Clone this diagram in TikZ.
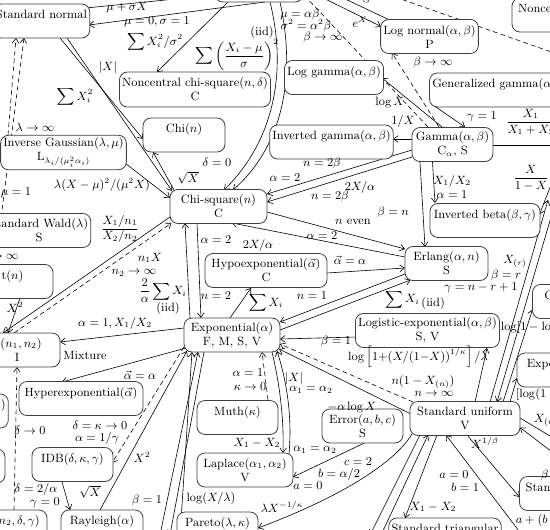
\documentclass[tikz,border=0pt]{standalone}
\usepackage{amsmath}
\usetikzlibrary{arrows.meta,calc}
\pgfdeclarelayer{bg}
\pgfsetlayers{bg,main}
\begin{document}
\begin{tikzpicture}[x=0.75pt,y=-0.75pt,
  every node/.style={font=\fontsize{9}{10.5}\selectfont},
  bx/.style={draw=black!75,line width=0.6pt,rounded corners=6pt,fill=white,align=center,inner xsep=2pt,inner ysep=2pt,minimum height=25.5pt},
  lb/.style={inner sep=0.5pt},
  ed/.style={line width=0.45pt},
  ar/.style={ed,-{Straight Barb[length=3.5pt,width=5pt]}},
  da/.style={ar,dash pattern=on 3.5pt off 2.5pt},
  dl/.style={ed,dash pattern=on 3.5pt off 2.5pt}]
\useasboundingbox (0,0) rectangle (550,529);
\clip (0,0) rectangle (550,529);
% ---------- boxes ----------
\node[bx,minimum width=69.75pt] (sn) at (41.5,21) {Standard normal\\~};
\node[bx,minimum width=66pt] (norm) at (259,-15) {Normal$(\mu,\sigma)$\\~};
\node[bx,minimum width=112.5pt,minimum height=26.25pt] (ncc) at (195,89.5) {Noncentral chi-square$(n,\delta)$\\C};
\node[bx,minimum width=61.5pt] (chi) at (184,135) {Chi$(n)$\\~};
\node[bx,minimum width=72pt] (lgam) at (334,77.5) {Log gamma$(\alpha,\beta)$\\~};
\node[bx,minimum width=92.25pt] (igam) at (331.5,142) {Inverted gamma$(\alpha,\beta)$\\~};
\node[bx,minimum width=72.75pt] (lnorm) at (429.5,36.5) {Log normal$(\alpha,\beta)$\\P};
\node[bx,minimum width=105pt] (ncb) at (582,15) {Noncentral beta$(\beta,\gamma,\delta)$\\~};
\node[bx,minimum width=116.25pt] (ggam) at (507,90) {Generalized gamma$(\alpha,\beta,\gamma)$\\~};
\node[bx,minimum width=60.75pt] (gam) at (452.5,144.5) {Gamma$(\alpha,\beta)$\\C$_\alpha$, S};
\node[bx,minimum width=82.5pt] (ibeta) at (485,220.5) {Inverted beta$(\beta,\gamma)$\\~};
\node[bx,minimum width=62.25pt] (erl) at (446.5,263.5) {Erlang$(\alpha,n)$\\S};
\node[bx,minimum width=105.75pt] (lexp) at (427.5,330.5) {Logistic-exponential$(\alpha,\beta)$\\S, V};
\node[bx,minimum width=72.75pt] (chisq) at (218.5,206.5) {Chi-square$(n)$\\C};
\node[bx,minimum width=91.5pt] (hypo) at (266,270.5) {Hypoexponential$(\vec\alpha)$\\C};
\node[bx,minimum width=72pt] (expo) at (232,335) {Exponential$(\alpha)$\\F, M, S, V};
\node[bx,minimum width=76.5pt] (wald) at (39,230.5) {Standard Wald$(\lambda)$\\S};
\node[bx,minimum width=92.25pt] (ig) at (63.5,152.5) {Inverse Gaussian$(\lambda,\mu)$\\L$_{\lambda_i/(\mu_i^2\alpha_i)}$};
\node[bx,minimum width=60.75pt] (tn) at (12.5,281.5) {t$(n)$\\~};
\node[bx,minimum width=64.5pt] (fdist) at (17,350) {F$(n_1,n_2)$\\I};
\node[bx,minimum width=93pt] (hyper) at (81,398.5) {Hyperexponential$(\vec\alpha)$\\~};
\node[bx,minimum width=60.75pt] (idb) at (72.5,464.5) {IDB$(\delta,\kappa,\gamma)$\\~};
\node[bx,minimum width=61.5pt] (ray) at (102,527) {Rayleigh$(\alpha)$\\~};
\node[bx,minimum width=112.5pt] (ncf) at (-28,527) {Noncentral F$(n_1,n_2,\delta,\gamma)$\\~};
\node[bx,minimum width=67.5pt] (lb1) at (-40,411) {Log logistic$(\lambda,\kappa)$\\~};
\node[bx,minimum width=67.5pt] (lb2) at (-40,466) {~\\~};
\node[bx,minimum width=60.75pt] (muth) at (237.5,417.5) {Muth$(\kappa)$\\~};
\node[bx,minimum width=72pt] (lap) at (245,470) {Laplace$(\alpha_1,\alpha_2)$\\V};
\node[bx,minimum width=60.75pt] (par) at (217.5,529) {Pareto$(\lambda,\kappa)$\\~};
\node[bx,minimum width=60.75pt] (err) at (362.5,426) {Error$(a,b,c)$\\S};
\node[bx,minimum width=82.5pt] (su) at (465,418.5) {Standard uniform\\V};
\node[bx,minimum width=112.5pt] (expr) at (592,370) {Exponential power$(\lambda,\kappa)$\\~};
\node[bx,minimum width=78.75pt] (gomp) at (585,301.5) {Gompertz$(\delta,\kappa)$\\~};
\node[bx,minimum width=86.25pt] (spow) at (577,493.5) {Standard power$(\beta)$\\~};
\node[bx,minimum width=82.5pt] (stri) at (445,535) {Standard triangular\\~};
% ---------- labels ----------
\node[lb] (l1) at (127,8) {$\mu+\sigma X$};
\node[lb] (l2) at (157,22) {$\mu=0,\sigma=1$};
\node[lb] (l3) at (155,42) {$\displaystyle\sum X_i^2/\sigma^2$};
\node[lb] (l4) at (262,32) {(iid)};
\node[lb] (l5) at (237,55) {$\displaystyle\sum\left(\frac{X_i-\mu}{\sigma}\right)^{2}$};
\node[lb] (l6) at (108,67) {$|X|$};
\node[lb] (l7) at (75,97) {$\displaystyle\sum X_i^2$};
\node[lb] (l8) at (35,127) {$\lambda\to\infty$};
\node[lb] (l9) at (102,185) {$\lambda(X-\mu)^2/(\mu^2X)$};
\node[lb] (l10) at (188,178) {$\sqrt{X}$};
\node[lb] (l11) at (217,162) {$\delta=0$};
\node[lb] (l12) at (16,193) {$\mu=1$};
\node[lb] (l13) at (120,229) {$\dfrac{X_1/n_1}{X_2/n_2}$};
\node[lb] (l14) at (150,258) {$n_1X$};
\node[lb] (l15) at (134,273) {$n_2\to\infty$};
\node[lb] (l16) at (-1,257) {$n\to\infty$};
\node[lb] (l17) at (15,307) {$X^2$};
\node[lb] (l18) at (163,291) {$\dfrac{2}{\alpha}\displaystyle\sum X_i$};
\node[lb] (l19) at (168,308) {(iid)};
\node[lb] (l20) at (115,323) {$\alpha=1, X_1/X_2$};
\node[lb] (l21) at (85,355) {Mixture};
\node[lb] (l22) at (140,375) {$\vec\alpha=\alpha$};
\node[lb] (l23) at (100,425) {$\delta=\kappa\to0$};
\node[lb] (l24) at (97,438) {$\alpha=1/\gamma$};
\node[lb] (l25) at (142,457) {$X^2$};
\node[lb] (l26) at (90,492) {$\sqrt{X}$};
\node[lb] (l27) at (36,489) {$\delta=2/\alpha$};
\node[lb] (l28) at (45,503) {$\gamma=0$};
\node[lb] (l29) at (30,430) {$\delta\to0$};
\node[lb] (l30) at (147,500) {$\beta=1$};
\node[lb] (l31) at (211,498) {$\log(X/\lambda)$};
\node[lb] (l32) at (216,240) {$\alpha=2$};
\node[lb] (l33) at (216,296) {$n=2$};
\node[lb] (l34) at (258,245) {$2X/\alpha$};
\node[lb] (l35) at (266,303) {$\displaystyle\sum X_i$};
\node[lb] (l36) at (285,178) {$\alpha=2$};
\node[lb] (l37) at (322,163) {$n=2\beta$};
\node[lb] (l38) at (360,187) {$2X/\alpha$};
\node[lb] (l39) at (330,196) {$n=2\beta$};
\node[lb] (l40) at (353,222) {$n$ even};
\node[lb] (l41) at (322,236) {$\alpha=2$};
\node[lb] (l42) at (350,260) {$\vec\alpha=\alpha$};
\node[lb] (l43) at (312,296) {$n=1$};
\node[lb] (l44) at (415,300) {$\displaystyle\sum X_i$\raisebox{-3pt}{\,(iid)}};
\node[lb] (l45) at (336,341) {$\beta=1$};
\node[lb] (l46) at (403,121) {$1/X$};
\node[lb] (l47) at (390,102) {$\log X$};
\node[lb] (l48) at (452,181) {$X_1/X_2$};
\node[lb] (l49) at (452,195) {$\alpha=1$};
\node[lb] (l50) at (393,212) {$\beta=n$};
\node[lb] (l51) at (482,117) {$\gamma=1$};
\node[lb,anchor=west] (l52) at (505,122) {$\dfrac{X_1}{X_1+X_2}$};
\node[lb] (l53) at (531,178) {$\dfrac{X}{1-X}$};
\node[lb] (l54) at (300,14) {$\mu=\alpha\beta$};
\node[lb] (l55) at (306,26) {$\sigma^2=\alpha^2\beta$};
\node[lb] (l56) at (323,37) {$\beta\to\infty$};
\node[lb] (l57) at (433,62) {$\beta\to\infty$};
\node[lb] (l58) at (360,22) {$e^X$};
\node[lb] (l59) at (368,-3) {$\log X$};
\node[lb] (l60) at (418,357) {$\log\left[1{+}(X/(1{-}X))^{1/\kappa}\right]/\lambda$};
\node[lb] (l61) at (515,261) {$X_{(r)}$};
\node[lb] (l62) at (506,275) {$\beta=r$};
\node[lb] (l63) at (481,288) {$\gamma=n-r+1$};
\node[lb,anchor=west] (l64) at (500,327) {$\log[1-\log(1-X)]$};
\node[lb,anchor=west] (l65) at (515,393) {$[\log(1-\log(1-X))/\lambda]^{1/\kappa}$};
\node[lb] (l66) at (423,382) {$n(1-X_{(n)})$};
\node[lb] (l67) at (434,394) {$n\to\infty$};
\node[lb] (l68) at (352,407) {$-\alpha\log X$};
\node[lb] (l69) at (294,378) {$|X|$};
\node[lb] (l70) at (311,390) {$\alpha_1=\alpha_2$};
\node[lb] (l71) at (248,373) {$\alpha=1$};
\node[lb] (l72) at (250,387) {$\kappa\to0$};
\node[lb] (l73) at (257,443) {$X_1-X_2$};
\node[lb] (l74) at (315,450) {$\alpha_1=\alpha_2$};
\node[lb] (l75) at (358,462) {$c=2$};
\node[lb] (l76) at (339,474) {$b=\alpha/2$};
\node[lb] (l77) at (308,486) {$a=0$};
\node[lb] (l78) at (282,507) {$\lambda X^{-1/\kappa}$};
\node[lb] (l79) at (485,443) {$X^{1/\beta}$};
\node[lb,anchor=west] (l80) at (533,420) {$X_{(n)}$};
\node[lb] (l81) at (454,475) {$a=0$};
\node[lb] (l82) at (465,487) {$b=1$};
\node[lb] (l83) at (433,507) {$X_1-X_2$};
\node[lb,anchor=west] (l84) at (540,475) {$\beta=1$};
\node[lb,anchor=west] (l85) at (515,520) {$a+(b-a)X$};
% ---------- connectors ----------
\begin{pgfonlayer}{bg}
\clip (0,0) rectangle (550,529);
\coordinate (betaA) at (560,145);
\coordinate (betaB) at (556,172);
\coordinate (betaC) at (548,200);
\coordinate (betaD) at (556,200);
\coordinate (dA) at (395,-3);
\coordinate (dB) at (560,55);
\coordinate (xnA) at (560,442);
\coordinate (xnB) at (560,458);
\coordinate (b1) at (370,535);
\coordinate (b2) at (381,535);
\coordinate (uab) at (522,535);
\coordinate (w1) at (160,535);
\coordinate (w2) at (170,535);
\draw[ar] ($(sn)+(44.5,-13)$) -- ($(norm)+(-44,10)$);
\draw[ar] ($(norm)+(6,17)$) -- ($(sn)+(47.5,4)$);
\draw[ar] ($(norm)+(-31,17)$) -- ($(ncc)+(-38,-17.5)$);
\draw[ar] ($(norm)+(11,17)$) .. controls (287,70) and (275,140) .. ($(chisq)+(5.5,-16.5)$);
\draw[ar] ($(norm)+(21,17)$) .. controls (296,75) and (284,145) .. ($(chisq)+(14.5,-16.5)$);
\draw[ar] ($(sn)+(18.5,17)$) -- ($(chi)+(-41,4)$);
\draw[ar] ($(sn)+(25.5,17)$) -- ($(chisq)+(-46.5,-15.5)$);
\draw[ar] ($(chisq)+(-44.5,-16.5)$) -- ($(chi)+(-31,17)$);
\draw[ar] ($(ig)+(61.5,10.5)$) -- ($(chisq)+(-48.5,-8.5)$);
\draw[da] ($(ig)+(-55.5,-17.5)$) -- ($(sn)+(-25.5,17)$);
\draw[da] ($(tn)+(-17.5,-16.5)$) -- ($(sn)+(-17.5,17)$);
\draw[ar] ($(chisq)+(-48.5,10.5)$) -- ($(fdist)+(-14,-17)$);
\draw[da] ($(fdist)+(-3,-17)$) -- ($(chisq)+(-47,16.5)$);
\draw[ar] ($(tn)+(7.5,16.5)$) -- ($(fdist)+(-9,-17)$);
\draw[ar] ($(expo)+(-48,-7)$) -- ($(fdist)+(43,-8)$);
\draw[ar] ($(expo)+(-46,13)$) -- ($(hyper)+(-19,-16.5)$);
\draw[da] ($(expo)+(-48,12)$) -- ($(idb)+(39.5,-1.5)$);
\draw[ar] ($(ray)+(-2,-17)$) -- ($(expo)+(-45,16)$);
\draw[ar] ($(idb)+(-10.5,17.5)$) -- ($(ray)+(-32,-17)$);
\draw[da] ($(ncf)+(42,-17)$) -- ($(fdist)+(0,17)$);
\draw[ar] ($(expo)+(-42,-17)$) -- ($(chisq)+(-33.5,16.5)$);
\draw[ar] ($(chisq)+(-21.5,16.5)$) -- ($(expo)+(-31,-17)$);
\draw[ar] ($(expo)+(-2,-17)$) -- ($(hypo)+(-15,17.5)$);
\draw[ar] ($(gam)+(-40.5,5.5)$) -- ($(chisq)+(48.5,-12.5)$);
\draw[ar] ($(gam)+(-40.5,12.5)$) -- ($(chisq)+(48.5,-4.5)$);
\draw[ar] ($(chisq)+(48.5,5.5)$) -- ($(erl)+(-41.5,-14.5)$);
\draw[ar] ($(erl)+(-41.5,-6.5)$) -- ($(chisq)+(13.5,16.5)$);
\draw[ar] ($(hypo)+(61,2.5)$) -- ($(erl)+(-41.5,4.5)$);
\draw[ar] ($(erl)+(-41.5,10.5)$) -- ($(expo)+(48,-13)$);
\draw[ar] ($(expo)+(48,-5)$) -- ($(erl)+(-36,16.5)$);
\draw[ar] ($(lexp)+(-70.5,6.5)$) -- ($(expo)+(48,4)$);
\draw[ar] ($(gam)+(-40.5,-5.5)$) -- ($(igam)+(61.5,-3)$);
\draw[ar] ($(gam)+(-10.5,-17.5)$) -- ($(lgam)+(48,0.5)$);
\draw[ar] ($(gam)+(-20,17.5)$) -- ($(ibeta)+(-50,-17.5)$);
\draw[ar] ($(gam)+(-32.5,17.5)$) -- ($(erl)+(-21.5,-16.5)$);
\draw[ar] ($(ggam)+(-74,15)$) -- ($(gam)+(12.5,-17.5)$);
\draw[ar] ($(gam)+(40.5,0.5)$) -- (betaA);
\draw[ar] (betaB) -- ($(ibeta)+(54.5,-6)$);
\draw[da] ($(gam)+(-24.5,-17.5)$) -- ($(norm)+(44,9)$);
\draw[da] ($(gam)+(-13.5,-17.5)$) -- ($(lnorm)+(-37.5,16.5)$);
\draw[ar] ($(norm)+(44,3)$) -- ($(lnorm)+(-48.5,-10)$);
\draw[ar] ($(lnorm)+(-40,-16.5)$) -- ($(norm)+(44,-6)$);
\draw[dl] (dA) -- (dB);
\draw[ar] ($(su)+(10,-16.5)$) -- ($(lexp)+(59.5,17.5)$);
\draw[ar] ($(su)+(25,-16.5)$) -- (betaC);
\draw[ar] (betaD) -- ($(su)+(32,-16.5)$);
\draw[ar] ($(su)+(38,-16.5)$) -- ($(gomp)+(-52.5,8)$);
\draw[ar] ($(su)+(45,-16.5)$) -- ($(expr)+(-75,8)$);
\draw[ar] ($(su)+(2,16.5)$) -- ($(spow)+(-57.5,3.5)$);
\draw[ar] ($(su)+(55,-0.5)$) -- (xnA);
\draw[ar] (xnB) -- ($(su)+(55,9)$);
\draw[ar] ($(su)+(-28,16.5)$) -- ($(stri)+(-40,-17)$);
\draw[ar] ($(su)+(-45,16.5)$) -- (b1);
\draw[ar] (b2) -- ($(su)+(-37,16.5)$);
\draw[ar] (uab) -- ($(su)+(-19,16.5)$);
\draw[da] ($(su)+(-52,-16.5)$) -- ($(expo)+(48,9)$);
\draw[ar] ($(su)+(-55,-5)$) -- ($(expo)+(47,14)$);
\draw[ar] ($(err)+(4,16)$) -- ($(lap)+(48,7)$);
\draw[ar] ($(su)+(-53,15.5)$) .. controls (390,470) and (320,505) .. ($(par)+(40.5,-1)$);
\draw[ar] ($(par)+(-36,-16)$) -- ($(expo)+(-40,17)$);
\draw[ar] (w1) -- ($(expo)+(-34,17)$);
\draw[ar] ($(expo)+(-28,17)$) -- (w2);
\draw[da] ($(muth)+(30.5,-17.5)$) -- ($(expo)+(30,17)$);
\draw[ar] ($(expo)+(40,17)$) .. controls (280,385) and (284,420) .. ($(lap)+(38,-17)$);
\draw[ar] ($(lap)+(44,-16)$) .. controls (292,420) and (288,385) .. ($(expo)+(45,16)$);
\end{pgfonlayer}
\end{tikzpicture}
\end{document}
